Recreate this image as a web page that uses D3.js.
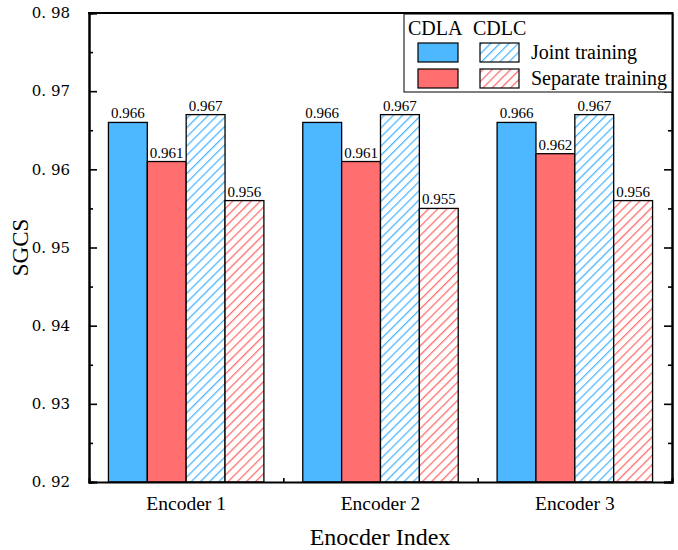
<!DOCTYPE html>
<html>
<head>
<meta charset="utf-8">
<script src="https://cdn.jsdelivr.net/npm/d3@7"></script>
<style>
  html, body { margin: 0; padding: 0; background: #fff; }
  svg { display: block; }
  svg text { font-family: "Liberation Serif", "Times New Roman", Times, "DejaVu Serif", serif; }
  svg text.num { font-family: "DejaVu Serif", "Liberation Serif", serif; }
</style>
</head>
<body>
<svg id="chart" width="678" height="550"></svg>
<script>
// Encoders on the x axis
const categories = ["Encoder 1", "Encoder 2", "Encoder 3"];
// Four bar series per encoder
const seriesNames = ["CDLA-Joint", "CDLA-Separate", "CDLC-Joint", "CDLC-Separate"];
const cdlaJoint    = [0.966, 0.966, 0.966];
const cdlaSeparate = [0.961, 0.961, 0.962];
const cdlcJoint    = [0.967, 0.967, 0.967];
const cdlcSeparate = [0.956, 0.955, 0.956];
const yTicks = [0.92, 0.93, 0.94, 0.95, 0.96, 0.97, 0.98];
const yMinorTicks = [0.925, 0.935, 0.945, 0.955, 0.965, 0.975];

const seriesValues = [cdlaJoint, cdlaSeparate, cdlcJoint, cdlcSeparate];
const BLUE = "#4db8ff", RED = "#ff6f6f";
const seriesStyle = [
  { color: BLUE, hatch: false },
  { color: RED,  hatch: false },
  { color: BLUE, hatch: true },
  { color: RED,  hatch: true }
];

const svg = d3.select("#chart");
const margin = { top: 13, right: 6, bottom: 68, left: 89 };
const W = 678 - margin.left - margin.right;
const H = 550 - margin.top - margin.bottom;

// Diagonal hatch patterns
const defs = svg.append("defs");
[["hatchBlue", BLUE], ["hatchRed", RED]].forEach(([id, c]) => {
  const p = defs.append("pattern")
    .attr("id", id)
    .attr("patternUnits", "userSpaceOnUse")
    .attr("width", 6.5).attr("height", 6.5)
    .attr("patternTransform", "rotate(45)");
  p.append("rect").attr("width", 6.5).attr("height", 6.5).attr("fill", "#fff");
  p.append("line").attr("x1", 0).attr("y1", 0).attr("x2", 0).attr("y2", 6.5)
    .attr("stroke", c).attr("stroke-width", 2.6);
});
const fillFor = s => s.hatch ? (s.color === BLUE ? "url(#hatchBlue)" : "url(#hatchRed)") : s.color;

const g = svg.append("g").attr("transform", `translate(${margin.left},${margin.top})`);

const x0 = d3.scaleBand().domain(categories).range([0, W]).paddingInner(0).paddingOuter(0);
const x1 = d3.scaleBand().domain(seriesNames).range([0, x0.bandwidth()]).paddingInner(0).paddingOuter(0.5);
const y = d3.scaleLinear().domain([0.92, 0.98]).range([H, 0]);

// Bars
const groups = g.selectAll("g.grp").data(categories).join("g")
  .attr("class", "grp")
  .attr("transform", d => `translate(${x0(d)},0)`);

groups.each(function(cat, ci) {
  const grp = d3.select(this);
  const rows = seriesNames.map((s, si) => ({ s, si, v: seriesValues[si][ci] }));
  grp.selectAll("rect").data(rows).join("rect")
    .attr("x", d => x1(d.s))
    .attr("y", d => y(d.v))
    .attr("width", x1.bandwidth())
    .attr("height", d => H - y(d.v))
    .attr("fill", d => fillFor(seriesStyle[d.si]))
    .attr("stroke", "#000")
    .attr("stroke-width", 1.3);
  grp.selectAll("text").data(rows).join("text")
    .attr("x", d => x1(d.s) + x1.bandwidth() / 2)
    .attr("y", d => y(d.v) - 4)
    .attr("text-anchor", "middle")
    .style("font-size", "15px")
    .text(d => d.v.toFixed(3));
});

const tickFmt = d => d3.format(".2f")(d).replace(".", ". ");

// Left axis (ticks inward)
const yAxisL = g.append("g").call(d3.axisLeft(y).tickValues(yTicks).tickSize(-8).tickPadding(19).tickFormat(tickFmt));
yAxisL.append("g").call(d3.axisLeft(y).tickValues(yMinorTicks).tickSize(-4).tickFormat(""));
// Right axis (ticks inward, no labels)
const yAxisR = g.append("g").attr("transform", `translate(${W},0)`)
  .call(d3.axisRight(y).tickValues(yTicks).tickSize(-8).tickFormat(""));
yAxisR.append("g").call(d3.axisRight(y).tickValues(yMinorTicks).tickSize(-4).tickFormat(""));
// Bottom axis: minor ticks at group boundaries
const bounds = d3.range(1, categories.length + 1).map(i => i * x0.step());
const xb = d3.scaleLinear().domain([0, W]).range([0, W]);
const xAxis = g.append("g").attr("transform", `translate(0,${H})`);
xAxis.call(d3.axisBottom(xb).tickValues(bounds).tickSize(-4).tickFormat(""));
xAxis.append("g").call(d3.axisBottom(x0).tickSize(0).tickPadding(14));

[yAxisL, yAxisR, xAxis].forEach(a => {
  a.attr("font-family", null);
  a.selectAll("g").attr("font-family", null);
  a.selectAll(".domain").attr("stroke", "#000").attr("stroke-width", 2);
  a.selectAll(".tick line").attr("stroke", "#000").attr("stroke-width", 1.6);
});
xAxis.selectAll(".domain").filter(function() { return this.parentNode !== xAxis.node(); }).remove();
xAxis.selectAll("text").style("font-size", "19.5px").attr("fill", "#000");
yAxisL.selectAll("text").classed("num", true).style("font-size", "15px").attr("fill", "#000");

// Top frame line
g.append("line").attr("x1", 0).attr("x2", W).attr("y1", 0).attr("y2", 0)
  .attr("stroke", "#000").attr("stroke-width", 2).attr("stroke-linecap", "square");

// Axis titles
svg.append("text")
  .attr("transform", "translate(28,247.5) rotate(-90)")
  .attr("text-anchor", "middle")
  .style("font-size", "23px")
  .text("SGCS");
svg.append("text")
  .attr("x", margin.left + W / 2 - 0.5).attr("y", 545)
  .attr("text-anchor", "middle")
  .style("font-size", "24px")
  .text("Enocder Index");

// Legend
const lg = svg.append("g");
lg.append("rect").attr("x", 404).attr("y", 14).attr("width", 268).attr("height", 78)
  .attr("fill", "#fff").attr("stroke", "#000").attr("stroke-width", 1);
lg.append("text").attr("x", 408).attr("y", 35).style("font-size", "20px").text("CDLA");
lg.append("text").attr("x", 473).attr("y", 35).style("font-size", "20px").text("CDLC");
const legendRows = [
  { label: "Joint training", solid: seriesStyle[0], hatched: seriesStyle[2], y: 43 },
  { label: "Separate training", solid: seriesStyle[1], hatched: seriesStyle[3], y: 69 }
];
legendRows.forEach(r => {
  lg.append("rect").attr("x", 418).attr("y", r.y).attr("width", 40).attr("height", 19)
    .attr("fill", fillFor(r.solid)).attr("stroke", "#000").attr("stroke-width", 1.2);
  lg.append("rect").attr("x", 480).attr("y", r.y).attr("width", 39).attr("height", 19)
    .attr("fill", fillFor(r.hatched)).attr("stroke", "#000").attr("stroke-width", 1.2);
  lg.append("text").attr("x", 531).attr("y", r.y + 16).style("font-size", "20px").text(r.label);
});
</script>
</body>
</html>
